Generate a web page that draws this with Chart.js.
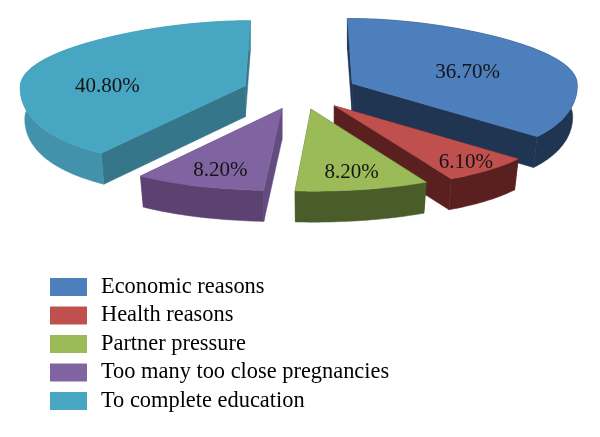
<!DOCTYPE html>
<html><head><meta charset="utf-8">
<style>html,body{margin:0;padding:0;background:#fff}canvas{display:block}</style>
<script src="https://cdn.jsdelivr.net/npm/chart.js@4"></script>
</head><body>
<canvas id="c" width="600" height="437"></canvas>
<script>
const categories = ["Economic reasons","Health reasons","Partner pressure","Too many too close pregnancies","To complete education"];
const shares = [36.7, 6.1, 8.2, 8.2, 40.8];
const valueLabels = ["36.70%","6.10%","8.20%","8.20%","40.80%"];

const topColors  = ["#4c7fbc","#c0504d","#9bbb59","#8064a2","#47a6c1"];
const wallColors = ["#1f3552","#5a2020","#4a5c2a","#5c4270","#4192aa"];
const cutColors  = ["#1f3552","#5a2020","#4a5c2a","#654c80","#35768a"];
const paintOrder = [0,4,1,3,2];
const labelRadius = [0.54,0.882,0.81,0.806,0.613];
const labelTurnDeg = [8,0.6,0,-1,-18];

const FONT = '"Liberation Serif", serif';
const scene = {cx:300, cy:91, rx:225, ryA:73.5, ryB:8.5, persp:0.2, perspE:0.09, ex:57, ey:18.5, depth:31, bottomScale:0.98, offsetUnit:30};

function project(arc, angle, r, depth){
  const mid=(arc.startAngle+arc.endAngle)/2, f=arc.options.offset/scene.offsetUnit;
  const X=r*Math.cos(angle), Y=r*Math.sin(angle);
  const ex=scene.ex*Math.cos(mid)*f, ey=scene.ey*Math.sin(mid)*f;
  return {
    x:scene.cx+ex*(1+scene.perspE*Y)+scene.rx*X*(1+scene.persp*Y*Math.abs(Y))*(depth?scene.bottomScale:1),
    y:scene.cy+ey+scene.ryA*Y+scene.ryB*Y*Y+depth
  };
}
function arcPoints(arc, depth){
  const pts=[], n=Math.max(2,Math.ceil((arc.endAngle-arc.startAngle)/(Math.PI/180)));
  for(let i=0;i<=n;i++) pts.push(project(arc,arc.startAngle+(arc.endAngle-arc.startAngle)*i/n,1,depth));
  return pts;
}
function fillPoly(ctx,pts,color){
  ctx.beginPath();
  pts.forEach((p,i)=>i?ctx.lineTo(p.x,p.y):ctx.moveTo(p.x,p.y));
  ctx.closePath();
  ctx.fillStyle=color; ctx.strokeStyle=color; ctx.lineWidth=0.5;
  ctx.fill(); ctx.stroke();
}

const pie3d = {
  id:'pie3d',
  afterLayout(chart){
    const l=chart.legend;
    l.left=42.3; l.top=270.3; l.right=600; l.bottom=437;
  },
  beforeDatasetDraw(chart,args){
    const ctx=chart.ctx, arcs=chart.getDatasetMeta(args.index).data;
    ctx.save();
    paintOrder.forEach(i=>{
      const a=arcs[i], d=scene.depth;
      const cut=(ang)=>[project(a,ang,0,0),project(a,ang,1,0),project(a,ang,1,d),project(a,ang,0,d)];
      fillPoly(ctx,cut(a.startAngle),cutColors[i]);
      fillPoly(ctx,cut(a.endAngle),cutColors[i]);
      const top=arcPoints(a,0), bot=arcPoints(a,d);
      fillPoly(ctx,top.concat(bot.slice().reverse()),wallColors[i]);
      fillPoly(ctx,[project(a,a.startAngle,0,0)].concat(top),topColors[i]);
    });
    ctx.restore();
    return false;
  },
  afterDatasetsDraw(chart){
    const ctx=chart.ctx, arcs=chart.getDatasetMeta(0).data;
    ctx.save();
    ctx.font='21px '+FONT; ctx.fillStyle='#141414'; ctx.textAlign='center'; ctx.textBaseline='middle';
    arcs.forEach((a,i)=>{
      const mid=(a.startAngle+a.endAngle)/2+labelTurnDeg[i]*Math.PI/180;
      const p=project(a,mid,labelRadius[i],0);
      ctx.fillText(valueLabels[i],p.x,p.y);
    });
    ctx.restore();
  }
};

new Chart(document.getElementById('c'),{
  type:'pie',
  data:{labels:categories,datasets:[{data:shares,backgroundColor:topColors,borderWidth:0,offset:30}]},
  plugins:[pie3d],
  options:{
    responsive:false,animation:false,
    layout:{padding:0},
    plugins:{
      tooltip:{enabled:false},
      legend:{
        position:'left',align:'start',
        labels:{
          boxWidth:42.6,boxHeight:23.6,padding:4.9,color:'#1a1a1a',
          font:{family:FONT,size:22.4},
          generateLabels(chart){
            return categories.map((t,i)=>({text:t,fillStyle:topColors[i],strokeStyle:'#ffffff',lineWidth:5.6,index:i,hidden:false}));
          }
        }
      }
    }
  }
});
</script>
</body></html>
